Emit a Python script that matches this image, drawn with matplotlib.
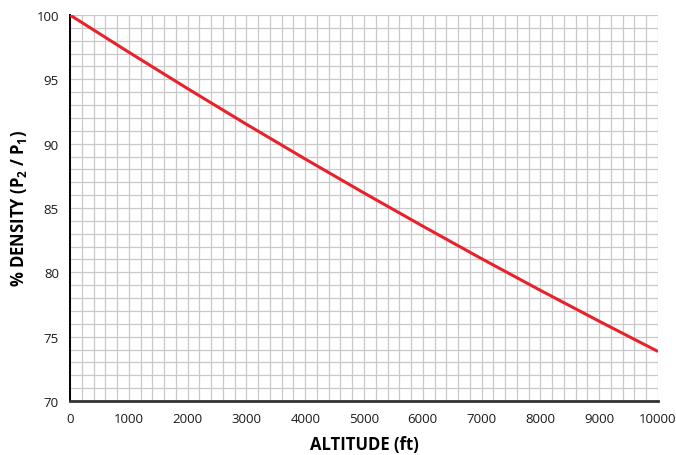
import matplotlib
matplotlib.use("Agg")
import matplotlib.pyplot as plt
from matplotlib.ticker import MultipleLocator

# standard atmosphere density ratio
altitude = [0, 1000, 2000, 3000, 4000, 5000, 6000, 7000, 8000, 9000, 10000]
density = [100.0, 97.11, 94.28, 91.51, 88.81, 86.17, 83.59, 81.06, 78.60, 76.20, 73.85]

plt.rcParams["font.family"] = ["Open Sans", "DejaVu Sans"]
plt.rcParams["mathtext.fontset"] = "custom"
plt.rcParams["mathtext.rm"] = "Open Sans"
plt.rcParams["mathtext.bf"] = "Open Sans:bold"

fig = plt.figure(figsize=(6.76, 4.56), dpi=100)
ax = fig.add_axes([70 / 676, 1 - 402 / 456, 588 / 676, 386 / 456])

ax.plot(altitude, density, color="#e8212b", linewidth=2.2, solid_capstyle="butt", zorder=3)

ax.set_xlim(0, 10000)
ax.set_ylim(70, 100)
ax.xaxis.set_major_locator(MultipleLocator(1000))
ax.xaxis.set_minor_locator(MultipleLocator(200))
ax.yaxis.set_major_locator(MultipleLocator(5))
ax.yaxis.set_minor_locator(MultipleLocator(1))
ax.grid(which="both", color="#c9c9c9", linewidth=0.9)
ax.set_axisbelow(True)

ax.tick_params(which="both", length=0, labelsize=9.5, colors="#1a1a1a")
ax.tick_params(axis="x", pad=8)
ax.tick_params(axis="y", pad=8)

for s in ["top", "right"]:
    ax.spines[s].set_visible(False)
ax.spines["left"].set_color("black")
ax.spines["left"].set_linewidth(1.4)
ax.spines["bottom"].set_color("#333333")
ax.spines["bottom"].set_linewidth(2)

ax.set_xlabel("ALTITUDE (ft)", fontsize=12, fontweight="bold", labelpad=7)
ax.set_ylabel(r"% DENSITY (P$_{\mathbf{2}}$ / P$_{\mathbf{1}}$)", fontsize=12,
              fontweight="bold", labelpad=5)

fig.savefig("out.png", dpi=100)
